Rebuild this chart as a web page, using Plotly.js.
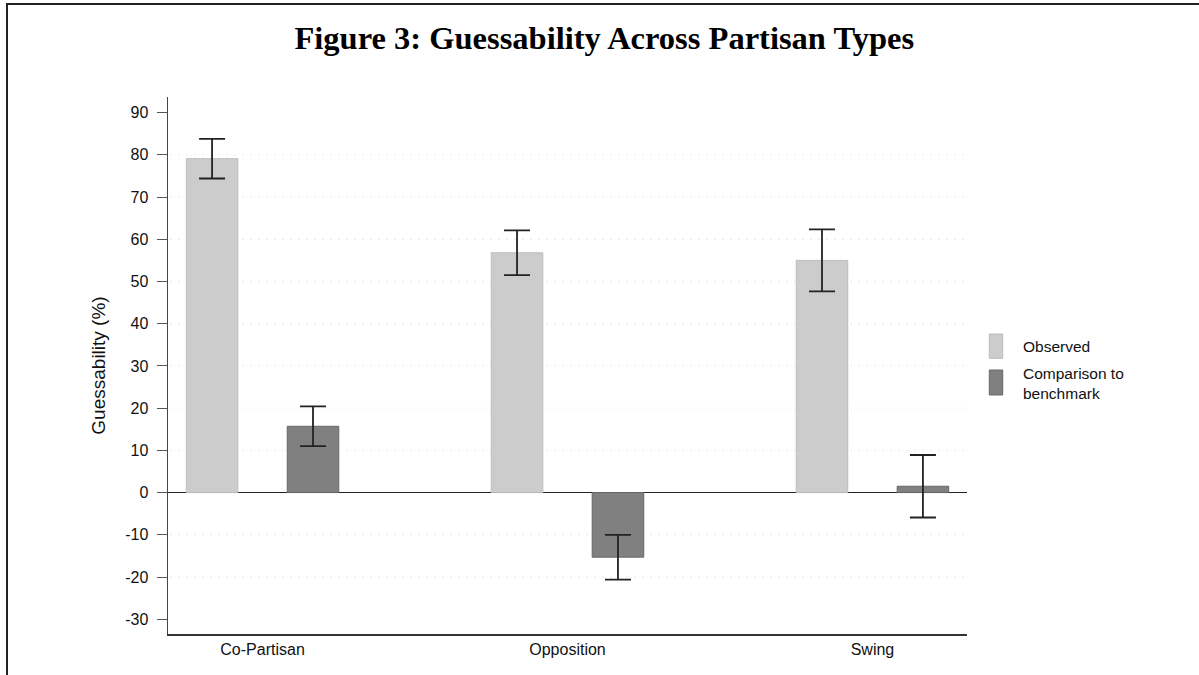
<!DOCTYPE html>
<html>
<head>
<meta charset="utf-8">
<script src="https://cdn.plot.ly/plotly-3.0.1.min.js"></script>
<style>
  html, body { margin: 0; padding: 0; background: #fff; }
  #wrap { position: relative; width: 1199px; height: 675px; overflow: hidden; }
  #chart { position: absolute; left: 0; top: 0; width: 1199px; height: 675px; }
  #frame { position: absolute; left: 6px; top: 3px; width: 1300px; height: 800px;
           border-top: 2px solid #222; border-left: 2px solid #222; pointer-events: none; }
</style>
</head>
<body>
<div id="wrap">
  <div id="chart"></div>
  <div id="frame"></div>
</div>
<script>
// ---- data ----
const categories = ["Co-Partisan", "Opposition", "Swing"];
const observed = [79.1, 56.8, 55.0];
const observedErr = [4.7, 5.3, 7.35];
const comparison = [15.7, -15.3, 1.5];
const comparisonErr = [4.7, 5.3, 7.4];
const seriesNames = ["Observed", "Comparison to benchmark"];
const legendLabels = ["Observed", "Comparison to<br>benchmark"];
const yTicks = [-30, -20, -10, 0, 10, 20, 30, 40, 50, 60, 70, 80, 90];
const gridValues = [-20, -10, 10, 20, 30, 40, 50, 60, 70, 80];

const fontSans = "Liberation Sans, Arial, Helvetica, sans-serif";

const traces = [
  {
    type: "bar", name: seriesNames[0], x: categories, y: observed,
    width: 0.169, offset: -0.25,
    marker: { color: "#cccccc", line: { color: "#bdbdbd", width: 1 } },
    error_y: { type: "data", array: observedErr, visible: true, color: "#222", thickness: 1.8, width: 13 },
    showlegend: false, hoverinfo: "x+y"
  },
  {
    type: "bar", name: seriesNames[1], x: categories, y: comparison,
    width: 0.169, offset: 0.081,
    marker: { color: "#808080", line: { color: "#686868", width: 1 } },
    error_y: { type: "data", array: comparisonErr, visible: true, color: "#222", thickness: 1.8, width: 13 },
    showlegend: false, hoverinfo: "x+y"
  }
];

const shapes = gridValues.map(v => ({
  type: "line", xref: "paper", yref: "y", x0: 0.003, x1: 1, y0: v, y1: v,
  layer: "below", line: { color: "#cfcfcf", width: 1, dash: "1px,7px" }
}));

// manual legend swatches
shapes.push({ type: "rect", xref: "paper", yref: "paper", x0: 1.0279, x1: 1.0447, y0: 0.5134, y1: 0.5587,
  line: { color: "#bdbdbd", width: 1 }, fillcolor: "#cccccc" });
shapes.push({ type: "rect", xref: "paper", yref: "paper", x0: 1.0279, x1: 1.0447, y0: 0.4451, y1: 0.4916,
  line: { color: "#686868", width: 1 }, fillcolor: "#808080" });

const legendFont = { family: fontSans, size: 15.5, color: "#111" };
const annotations = [
  { xref: "paper", yref: "paper", x: 1.0672, y: 0.535, xanchor: "left", yanchor: "middle",
    text: legendLabels[0], showarrow: false, font: legendFont },
  { xref: "paper", yref: "paper", x: 1.0672, y: 0.4674, xanchor: "left", yanchor: "middle", align: "left",
    text: legendLabels[1], showarrow: false, font: legendFont }
];

const layout = {
  width: 1199, height: 675,
  margin: { l: 168, r: 232, t: 97, b: 41 },
  paper_bgcolor: "#fff", plot_bgcolor: "#fff",
  barmode: "overlay",
  title: {
    text: "<b>Figure 3: Guessability Across Partisan Types</b>",
    font: { family: "Liberation Serif, Times New Roman, serif", size: 32.5, color: "#000" },
    x: 0.504, xanchor: "center", xref: "container",
    y: 1 - 38 / 675, yanchor: "middle", yref: "container"
  },
  xaxis: {
    type: "category", range: [-0.31, 2.31],
    showgrid: false, zeroline: false,
    showline: true, linecolor: "#333", linewidth: 1.5,
    ticks: "", tickfont: { family: fontSans, size: 16, color: "#111" },
    fixedrange: true
  },
  yaxis: {
    range: [-33.5, 93.7], tickmode: "array", tickvals: yTicks, ticktext: yTicks.map(String),
    showgrid: false,
    zeroline: true, zerolinecolor: "#222", zerolinewidth: 1.5,
    showline: true, linecolor: "#444", linewidth: 1.5,
    ticks: "outside", ticklen: 10, tickwidth: 1, tickcolor: "#555",
    ticklabelstandoff: 5,
    tickfont: { family: fontSans, size: 16, color: "#111" },
    title: { text: "Guessability (%)", font: { family: fontSans, size: 19, color: "#111" }, standoff: 14 },
    fixedrange: true
  },
  shapes: shapes,
  annotations: annotations,
  showlegend: false
};

Plotly.newPlot("chart", traces, layout, { displayModeBar: false, staticPlot: true });
</script>
</body>
</html>
